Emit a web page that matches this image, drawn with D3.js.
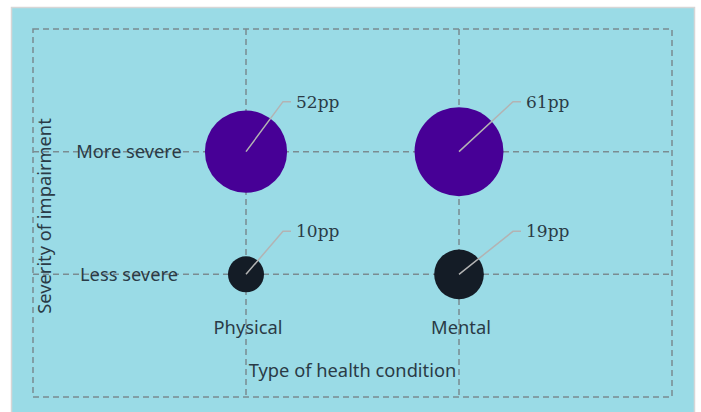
<!DOCTYPE html>
<meta charset="utf-8">
<head>
  <title></title>
  <script src="https://d3js.org/d3.v7.min.js"></script>
  <style>
    body { margin: 0; background: #fff; }
    .grid line, .grid rect { fill: none; stroke: #7a8c91; stroke-width: 1.5; stroke-dasharray: 6,4; }
    .cat { font: 18.3px "Noto Sans", sans-serif; fill: #2a3b47; }
    .val { font: 17px "DejaVu Serif", serif; fill: #2a3b47; }
  </style>
</head>
<body>
<div id="chart"></div>
<script>
// data
var types = ["Physical", "Mental"];
var severities = ["More severe", "Less severe"];
var values = [[52, 61], [10, 19]];   // rows = severity, cols = type
var labels = [["52pp", "61pp"], ["10pp", "19pp"]];

var W = 701, H = 412;
var svg = d3.select("#chart").append("svg").attr("width", W).attr("height", H);

// panel
svg.append("rect").attr("x", 11.5).attr("y", 7.5).attr("width", 683).attr("height", 406)
  .attr("fill", "#9adbe6").attr("stroke", "#d6d6d6").attr("stroke-width", 1.5);

var x0 = 33, x1 = 672, y0 = 29, y1 = 397;
var x = d3.scalePoint().domain(["", ...types, " "]).range([x0, x1]);
var y = d3.scalePoint().domain(["", ...severities, " "]).range([y0, y1]);
var r = d3.scaleSqrt().domain([0, 61]).range([0, 44.5]);

var grid = svg.append("g").attr("class", "grid");
grid.append("rect").attr("x", x0).attr("y", y0).attr("width", x1 - x0).attr("height", y1 - y0);
grid.selectAll(".v").data(types).enter().append("line")
  .attr("x1", d => x(d)).attr("x2", d => x(d)).attr("y1", y0).attr("y2", y1);
grid.selectAll(".h").data(severities).enter().append("line")
  .attr("y1", d => y(d)).attr("y2", d => y(d)).attr("x1", x0).attr("x2", x1);

// category labels
svg.selectAll(".ylab").data(severities).enter().append("text").attr("class", "cat")
  .attr("x", 129).attr("y", d => y(d)).attr("dy", "0.35em").attr("text-anchor", "middle").text(d => d);
svg.selectAll(".xlab").data(types).enter().append("text").attr("class", "cat")
  .attr("x", d => x(d) + 2).attr("y", 328).attr("dy", "0.35em").attr("text-anchor", "middle").text(d => d);

svg.append("text").attr("class", "cat").attr("text-anchor", "middle")
  .attr("x", (x0 + x1) / 2).attr("y", 371).attr("dy", "0.35em").text("Type of health condition");
svg.append("text").attr("class", "cat").attr("text-anchor", "middle")
  .attr("transform", "translate(45,216) rotate(-90)").attr("dy", "0.35em").text("Severity of impairment");

// bubbles
var cells = [];
severities.forEach(function(s, i) {
  types.forEach(function(t, j) {
    cells.push({s: s, t: t, v: values[i][j], label: labels[i][j], row: i, col: j});
  });
});
var fill = ["#470096", "#141c26"];
svg.selectAll("circle").data(cells).enter().append("circle")
  .attr("cx", d => x(d.t)).attr("cy", d => y(d.s)).attr("r", d => r(d.v))
  .attr("fill", d => fill[d.row]);

// leader lines
var dxs = [37, 54], dys = [-50, -43];
svg.selectAll(".lead").data(cells).enter().append("polyline")
  .attr("fill", "none").attr("stroke", "#b3b3b3").attr("stroke-width", 1.5)
  .attr("points", function(d) {
    var cx = x(d.t), cy = y(d.s), ex = cx + dxs[d.col], ey = cy + dys[d.row];
    return [cx, cy, ex, ey, ex + 8, ey].join(",");
  });
svg.selectAll(".val").data(cells).enter().append("text").attr("class", "val")
  .attr("x", d => x(d.t) + dxs[d.col] + 13).attr("y", d => y(d.s) + dys[d.row])
  .attr("dy", "0.35em").text(d => d.label);
</script>
</body>
